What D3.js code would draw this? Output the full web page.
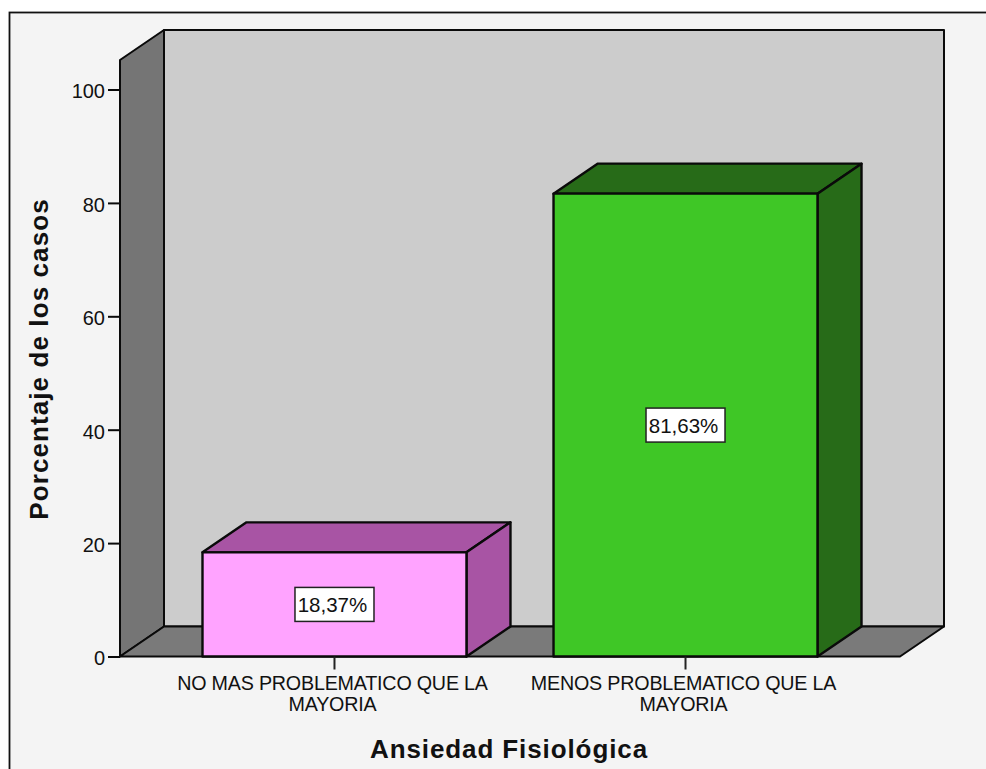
<!DOCTYPE html>
<html><head><meta charset="utf-8">
<script src="https://cdn.jsdelivr.net/npm/d3@7"></script>
<style>html,body{margin:0;padding:0;background:#fff;overflow:hidden}svg{display:block}
text{font-family:"Liberation Sans",Arial,sans-serif;fill:#111}</style></head>
<body><svg id="c" width="986" height="769"></svg>
<script>
const categories = ["NO MAS PROBLEMATICO QUE LA MAYORIA", "MENOS PROBLEMATICO QUE LA MAYORIA"];
const percentages = [18.37, 81.63];
const valueLabels = ["18,37%", "81,63%"];
const yTicks = [0, 20, 40, 60, 80, 100];
const frontColors = ["#ffa3ff", "#3fc726"];
const darkColors = ["#a854a4", "#276b18"];
const xTitle = "Ansiedad Fisiológica";
const yTitle = "Porcentaje de los casos";

const svg = d3.select("#c");
const dx = 44, dy = -30, left = 120, right = 900, base = 656.5, top100 = 89.5, yMax = 105.2;
const y = d3.scaleLinear().domain([0, 100]).range([base, top100]);
const x = d3.scaleBand().domain(categories).range([left, right]).paddingInner(0.248).paddingOuter(0.235);
const line = d3.line();
const ink = "#0a0a0a";

svg.append("rect").attr("x", 9.5).attr("y", 12.5).attr("width", 1000).attr("height", 800)
  .attr("fill", "#f4f4f4").attr("stroke", "#111").attr("stroke-width", 1.8);

function poly(pts, fill, w = 2) {
  svg.append("path").attr("d", line(pts) + "Z").attr("fill", fill)
    .attr("stroke", ink).attr("stroke-width", w).attr("stroke-linejoin", "round");
}
const yT = y(yMax);
// back wall, side wall, floor
poly([[left + dx, yT + dy], [right + dx, yT + dy], [right + dx, base + dy], [left + dx, base + dy]], "#cccccc");
poly([[left, yT], [left + dx, yT + dy], [left + dx, base + dy], [left, base]], "#757575");
poly([[left, base], [left + dx, base + dy], [right + dx, base + dy], [right, base]], "#7a7a7a");

// bars
categories.forEach((c, i) => {
  const x0 = x(c), x1 = x0 + x.bandwidth(), yv = y(percentages[i]);
  poly([[x0, yv], [x0 + dx, yv + dy], [x1 + dx, yv + dy], [x1, yv]], darkColors[i], 2.4);
  poly([[x1, yv], [x1 + dx, yv + dy], [x1 + dx, base + dy], [x1, base]], darkColors[i], 2.4);
  poly([[x0, yv], [x1, yv], [x1, base], [x0, base]], frontColors[i], 2.4);
  const cx = x0 + x.bandwidth() / 2, cy = (yv + base) / 2;
  svg.append("rect").attr("x", cx - 39.5).attr("y", cy - 17).attr("width", 79).attr("height", 34)
    .attr("fill", "#fff").attr("stroke", "#222").attr("stroke-width", 1.5);
  svg.append("text").attr("x", cx - 2).attr("y", cy + 7.5).attr("text-anchor", "middle")
    .attr("font-size", 20.5).text(valueLabels[i]);
});

// axes
const gy = svg.append("g").attr("transform", `translate(${left},0)`)
  .call(d3.axisLeft(y).tickValues(yTicks).tickSize(12).tickPadding(3).tickFormat(d3.format("d")));
gy.select(".domain").remove();
gy.selectAll("line").attr("stroke", ink).attr("stroke-width", 2);
gy.selectAll("text").attr("font-size", 20).attr("fill", "#111").attr("y", 2);

const gx = svg.append("g").attr("transform", `translate(0,${base})`)
  .call(d3.axisBottom(x).tickSize(13).tickPadding(0).tickFormat(""));
gx.select(".domain").remove();
gx.selectAll("line").attr("stroke", "#222").attr("stroke-width", 2);
gx.selectAll(".tick").each(function (d) {
  const words = d.split(" "), last = words.pop();
  const t = d3.select(this).select("text").attr("font-size", 19.7).attr("y", 0).attr("dy", 0).attr("fill", "#111")
    .attr("letter-spacing", -0.2);
  t.append("tspan").attr("x", -2).attr("y", 33.5).text(words.join(" "));
  t.append("tspan").attr("x", -2).attr("y", 54.5).text(last);
});

// titles
svg.append("text").attr("x", 509).attr("y", 758).attr("text-anchor", "middle")
  .attr("font-size", 26).attr("font-weight", "bold").attr("letter-spacing", 0.9).text(xTitle);
svg.append("text").attr("transform", "translate(48,359) rotate(-90)").attr("text-anchor", "middle")
  .attr("font-size", 26).attr("font-weight", "bold").attr("letter-spacing", 1.1).text(yTitle);
</script></body></html>
